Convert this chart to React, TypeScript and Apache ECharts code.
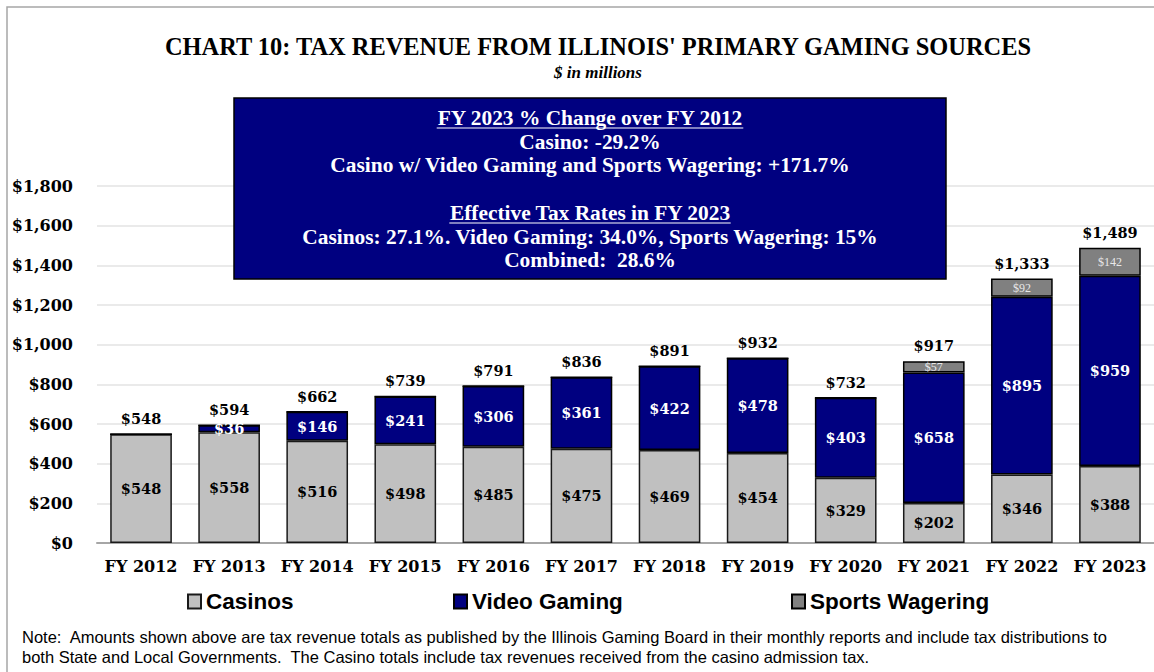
import React, { useEffect, useRef } from 'react';
import * as echarts from 'echarts';

const categories = ['FY 2012', 'FY 2013', 'FY 2014', 'FY 2015', 'FY 2016', 'FY 2017', 'FY 2018', 'FY 2019', 'FY 2020', 'FY 2021', 'FY 2022', 'FY 2023'];
const casinos = [548, 558, 516, 498, 485, 475, 469, 454, 329, 202, 346, 388];
const videoGaming = [0, 36, 146, 241, 306, 361, 422, 478, 403, 658, 895, 959];
const sportsWagering = [0, 0, 0, 0, 0, 0, 0, 0, 0, 57, 92, 142];
const totals = [548, 594, 662, 739, 791, 836, 891, 932, 732, 917, 1333, 1489];
const yMin = 0;
const yMax = 1800;
const yInterval = 200;

const title = "CHART 10: TAX REVENUE FROM ILLINOIS' PRIMARY GAMING SOURCES";
const subtitle = '$ in millions';
const boxLines = [
  { text: 'FY 2023 % Change over FY 2012', underline: true },
  { text: 'Casino: -29.2%', underline: false },
  { text: 'Casino w/ Video Gaming and Sports Wagering: +171.7%', underline: false },
  { text: '', underline: false },
  { text: 'Effective Tax Rates in FY 2023', underline: true },
  { text: 'Casinos: 27.1%. Video Gaming: 34.0%, Sports Wagering: 15%', underline: false },
  { text: 'Combined:  28.6%', underline: false },
];
const noteLines = [
  'Note:  Amounts shown above are tax revenue totals as published by the Illinois Gaming Board in their monthly reports and include tax distributions to',
  'both State and Local Governments.  The Casino totals include tax revenues received from the casino admission tax.',
];

const SERIF = '"DejaVu Serif", "Liberation Serif", serif';
const BOXFONT = '"Liberation Serif", serif';
const SANS = '"Liberation Sans", sans-serif';

const money = (v: number) => '$' + Math.round(v).toLocaleString('en-US');

export default function App() {
  const ref = useRef<HTMLDivElement>(null);
  useEffect(() => {
    if (!ref.current) return;
    const chart = echarts.init(ref.current, undefined, { renderer: 'svg' });

    const boxX = 234, boxY = 98, boxW = 712, boxH = 181;
    const cx = boxX + boxW / 2;
    const boxFont = `bold 21.4px ${BOXFONT}`;
    const lineYs = [118, 142, 165, 189, 213, 237, 260];
    const boxGraphics: any[] = [
      {
        type: 'rect',
        shape: { x: boxX, y: boxY, width: boxW, height: boxH },
        style: { fill: '#000080', stroke: '#000', lineWidth: 1.5 },
        z: 10,
      },
    ];
    boxLines.forEach((l, i) => {
      if (!l.text) return;
      boxGraphics.push({
        type: 'text',
        x: cx,
        y: lineYs[i],
        z: 11,
        style: {
          text: l.text,
          fill: '#fff',
          font: boxFont,
          textAlign: 'center',
          textVerticalAlign: 'middle',
        },
      });
    });
    boxLines.forEach((l, i) => {
      if (!l.underline) return;
      const w = (echarts.format as any).getTextRect
        ? (echarts.format as any).getTextRect(l.text, boxFont).width
        : l.text.length * 9.5;
      boxGraphics.push({
        type: 'line',
        z: 11,
        shape: { x1: cx - w / 2, y1: lineYs[i] + 10, x2: cx + w / 2, y2: lineYs[i] + 10 },
        style: { stroke: '#fff', lineWidth: 1.2 },
      });
    });

    const option: any = {
      animation: false,
      backgroundColor: '#fff',
      grid: { left: 97, right: 0, top: 186, bottom: 129, containLabel: false },
      xAxis: {
        type: 'category',
        data: categories,
        axisLine: { lineStyle: { color: '#a6a6a6', width: 2 } },
        axisTick: { show: false },
        axisLabel: { interval: 0, color: '#000', fontFamily: SERIF, fontWeight: 'bold', fontSize: 16, margin: 15 },
      },
      yAxis: {
        type: 'value',
        min: yMin,
        max: yMax,
        interval: yInterval,
        axisLine: { show: false },
        axisTick: { show: false },
        splitLine: { lineStyle: { color: '#e3e3e3', width: 1.5 } },
        axisLabel: {
          color: '#000', fontFamily: SERIF, fontWeight: 'bold', fontSize: 16, margin: 24,
          formatter: (v: number) => money(v),
        },
      },
      legend: [
        { data: ['Casinos'], left: 182 },
        { data: ['Video Gaming'], left: 448 },
        { data: ['Sports Wagering'], left: 786 },
      ].map((l) => ({
        ...l,
        top: 585,
        icon: 'rect',
        itemWidth: 13,
        itemHeight: 14,
        itemGap: 6,
        textStyle: { color: '#000', fontFamily: SANS, fontWeight: 'bold', fontSize: 22.5 },
      })),
      series: [
        {
          name: 'Casinos',
          type: 'bar',
          stack: 'total',
          data: casinos,
          barWidth: '70%',
          itemStyle: { color: '#c0c0c0', borderColor: '#1a1a1a', borderWidth: 1.5 },
          label: {
            show: true, position: 'inside', color: '#000', fontFamily: SERIF, fontWeight: 'bold', fontSize: 14.5,
            formatter: (p: any) => (p.value ? money(p.value) : ''),
          },
        },
        {
          name: 'Video Gaming',
          type: 'bar',
          stack: 'total',
          data: videoGaming,
          barWidth: '70%',
          itemStyle: { color: '#000080', borderColor: '#000', borderWidth: 1.5 },
          label: {
            show: true, position: 'inside', color: '#fff', fontFamily: SERIF, fontWeight: 'bold', fontSize: 14.5,
            formatter: (p: any) => (p.value ? money(p.value) : ''),
          },
        },
        {
          name: 'Sports Wagering',
          type: 'bar',
          stack: 'total',
          data: sportsWagering,
          barWidth: '70%',
          itemStyle: { color: '#808080', borderColor: '#000', borderWidth: 1.5 },
          label: {
            show: true, position: 'inside', color: '#e8e8e8', fontFamily: '"Liberation Serif", serif', fontSize: 12,
            formatter: (p: any) => (p.value ? money(p.value) : ''),
          },
        },
        {
          name: 'Total',
          type: 'bar',
          data: totals,
          barWidth: '70%',
          barGap: '-100%',
          z: 1,
          itemStyle: { color: 'rgba(0,0,0,0)' },
          label: {
            show: true, position: 'top', distance: 8, color: '#000', fontFamily: SERIF, fontWeight: 'bold', fontSize: 14.5,
            formatter: (p: any) => money(p.value),
          },
          tooltip: { show: false },
        },
      ],
      graphic: [
        {
          type: 'rect',
          shape: { x: 7, y: 7, width: 1160, height: 680 },
          style: { fill: 'none', stroke: '#a6a6a6', lineWidth: 1.5 },
          silent: true,
          z: 0,
        },
        {
          type: 'text',
          x: 598,
          y: 46,
          style: {
            text: title,
            fill: '#000',
            font: `bold 24.4px "Liberation Serif", serif`,
            textAlign: 'center',
            textVerticalAlign: 'middle',
          },
        },
        {
          type: 'text',
          x: 598,
          y: 72,
          style: {
            text: subtitle,
            fill: '#000',
            font: `italic bold 17px "Liberation Serif", serif`,
            textAlign: 'center',
            textVerticalAlign: 'middle',
          },
        },
        ...boxGraphics,
        ...noteLines.map((t, i) => ({
          type: 'text',
          x: 22,
          y: 637 + i * 20,
          style: {
            text: t,
            fill: '#000',
            font: `16.5px ${SANS}`,
            textAlign: 'left',
            textVerticalAlign: 'middle',
          },
        })),
      ],
    };
    chart.setOption(option);

    return () => chart.dispose();
  }, []);
  return <div ref={ref} style={{ position: 'absolute', left: 0, top: 0, width: 1154, height: 672 }} />;
}
